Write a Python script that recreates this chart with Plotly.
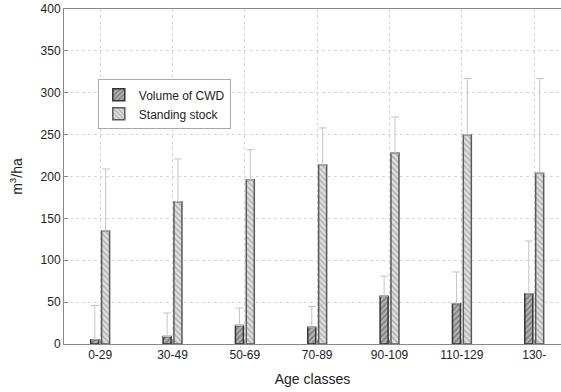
import plotly.graph_objects as go

age_classes = ["0-29", "30-49", "50-69", "70-89", "90-109", "110-129", "130-"]
cwd_volume = [5, 9, 22, 20, 57, 48, 60]
cwd_err_plus = [41, 28, 21, 25, 24, 38, 63]
standing_stock = [135, 170, 196, 214, 228, 250, 204]
standing_err_plus = [74, 51, 36, 44, 43, 67, 113]

fig = go.Figure()
fig.add_trace(go.Bar(
    name="Volume of CWD", x=age_classes, y=cwd_volume,
    marker=dict(color="#a0a0a0", line=dict(color="#333333", width=1.5),
                pattern=dict(shape="/", fgcolor="#3a3a3a", bgcolor="#b0b0b0", size=4, solidity=0.35)),
    error_y=dict(type="data", symmetric=False, array=cwd_err_plus, arrayminus=[0]*7,
                 color="#c4c4c4", thickness=1, width=4),
))
fig.add_trace(go.Bar(
    name="Standing stock", x=age_classes, y=standing_stock,
    marker=dict(color="#d0d0d0", line=dict(color="#5a5a5a", width=1.5),
                pattern=dict(shape="\\", fgcolor="#777777", bgcolor="#e0e0e0", size=4, solidity=0.35)),
    error_y=dict(type="data", symmetric=False, array=standing_err_plus, arrayminus=[0]*7,
                 color="#c4c4c4", thickness=1, width=4),
))

fig.update_layout(
    width=561, height=392,
    margin=dict(l=64, r=0, t=9, b=48),
    paper_bgcolor="white", plot_bgcolor="white",
    font=dict(family="Arial, Liberation Sans, sans-serif", size=12, color="#222222"),
    barmode="group", bargap=0.70, bargroupgap=0.26,
    showlegend=True,
    legend=dict(x=0.068, y=0.79, xanchor="left", yanchor="top",
                bgcolor="white", bordercolor="#aaaaaa", borderwidth=1,
                font=dict(size=12), tracegroupgap=0, itemwidth=30),
    xaxis=dict(range=[-0.5, 6.37], showline=True, linecolor="#888888", linewidth=1,
               mirror=True, ticks="inside", ticklen=4, tickcolor="#888888",
               showgrid=True, gridcolor="#d8d8d8", griddash="dot", gridwidth=1,
               title=dict(text="Age classes", standoff=12), tickfont=dict(size=12)),
    yaxis=dict(range=[0, 400], dtick=50, showline=True, linecolor="#888888", linewidth=1,
               ticks="inside", ticklen=4, tickcolor="#888888",
               showgrid=True, gridcolor="#d8d8d8", griddash="dot", gridwidth=1,
               zeroline=False,
               title=dict(text="m<sup>3</sup>/ha", standoff=14), tickfont=dict(size=12)),
)

fig.write_html("out.html")
